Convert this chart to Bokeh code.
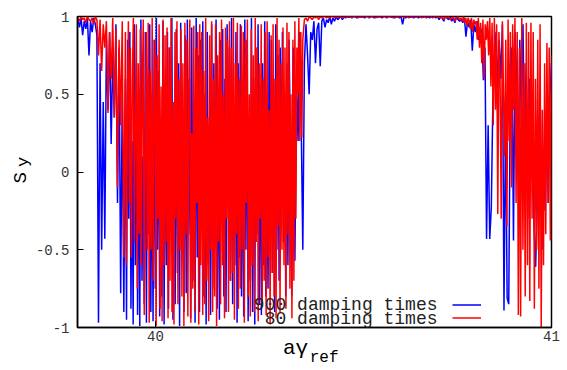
import numpy as np
from bokeh.plotting import figure
from bokeh.models import Range1d, Label, Legend, LegendItem, FixedTicker, LinearAxis
from bokeh.embed import file_html
from bokeh.resources import INLINE

# ---- data ----
x_ticks = [40, 41]
y_ticks = [-1, -0.5, 0, 0.5, 1]
y_tick_labels = {-1: "-1", -0.5: "-0.5", 0: "0", 0.5: "0.5", 1: "1"}

# segment limits along aγ_ref (x)
blue_start_x = (39.800, 39.920)
blue_dense_x = (39.924, 40.340)
blue_tail_x = (40.344, 40.420)
blue_flat_x = (40.424, 40.768)
blue_right_x = (40.772, 41.000)
red_start_x = (39.800, 39.920)
red_dense_x = (39.924, 40.372)
red_flat_x = (40.376, 40.768)
red_right_x = (40.772, 41.000)

blue_start = [1, .98, .93, .99, .88, .97, .92, .99, .75, .97, .9, .99, .95, .88,
              -.97, .7, -.5, .45, -.43, .85, .4, .9, .18, .75, .35, .95, -.2, .8, -.78, .5, -.9]
blue_dense = [.6, -.95, .85, -.3, .9, -.88, .2, -.98, .95, -.6,
              .7, -.92, .4, -.99, .98, -.7, .1, -.85, .9, -.97,
              .5, -.4, .95, -.9, .3, -.96, .85, -.75, .99, -.5,
              .65, -.93, .2, -.8, .97, -.98, .55, -.6, .9, -.88,
              .8, -.3, .99, -.95, .45, -.85, .92, -.65, .7, -.99,
              .96, -.5, .35, -.9, .88, -.78, .98, -.4, .6, -.94,
              .93, -.7, .15, -.97, .99, -.55, .75, -.9, .85, -.35,
              .97, -.8, .5, -.98, .9, -.6, .3, -.92, .95, -.75,
              .7, -.45, .98, -.88, .55, -.95, .85, -.3, .92, -.8,
              .6, -.9, .95, -.2, .8, -.7, .99, -.85, .4, -.6,
              .9, -.97, .7, -.55, .95, -.8, .4, -.93, .98, -.5,
              .85, -.96, .3, -.7, .99, -.9, .6, -.98, .8, -.4,
              .95, -.85, .5, -.92, .7, -.6, .97, -.8, .2, -.75,
              .9, -.3, .85, -.65, .6, -.9, .95, -.5, .75, -.7,
              .8, -.2, .9, -.45, .5, -.8, .7, -.6, .85, .3]
blue_tail = [-.8, .8, -.57, .6, .2, .9, .3, -.5, .7, .95,
             .75, .5, .9, .85, .97, .7, .92, .96, .68, .97]
blue_flat = [.99, .93, .98, .96, 1, .95, .99, .97, 1, .98,
             .99, 1, .98, 1, .99, 1, .995, 1, .99, 1,
             1, .99, 1, 1, .995, 1, .99, 1, 1, .99,
             1, 1, .99, 1, .995, 1, 1, .99, 1, 1,
             .99, 1, 1, .995, 1, .99, 1, 1, .99, 1,
             .95, 1, .99, 1, 1, .995, 1, .99, 1, 1,
             .99, 1, 1, .995, 1, .99, 1, .99, 1, .995,
             1, .99, 1, .98, 1, .99, .97, 1, .99, .98,
             1, .97, .99, .96, 1, .98, .97]
blue_right = [.98, .96, .99, .87, .97, .93, .98, .78, .95, .9,
              .97, .85, .93, .9, .59, .8, -.43, .3, -.43, -.23,
              .47, .7, .9, .54, .85, .6, .95, -.89, .4, -.81,
              -.85, .5, .8, -.44, .9, .6, .03, .85, .3, .95,
              .1, .7, -.3, .6, -.04, .2, -.35, -.61, -.2, -.03,
              .4, -.5, .1, -.25, .3, -.2, .5, .7]

red_start = [1, .99, .97, 1, .98, .99, .96, 1, .98, .97, .99, .95, 1, .98,
             .75, .98, .65, .95, .8, .97, .38, .9, .6, .99, .35, .92, -.1, .85, .3, .97, -.55]
red_dense = [.9, -.6, .4, .97, -.2, .8, -.55, .6, .99, -.45,
             .3, .95, -.75, .7, -.4, .92, -.6, .5, .98, -.92,
             .1, .9, -.5, .96, -.97, .65, -.5, .99, -.7, .4,
             .85, -.99, .75, -.3, .95, -.88, .55, -.96, .98, -.6,
             .88, -.45, .93, -.94, .8, -.7, .99, -.9, .45, -.98,
             .9, -.3, .97, -.85, .6, -.5, .92, -.8, .7, -.99,
             .96, -.4, .85, -.93, .5, .98, -.97, .25, -.75, .94,
             -.9, .8, -.2, .9, -.98, .95, -.6, .9, -.92, .65,
             -.85, .99, -.7, .35, -.96, .88, -.5, .97, -.9, .6,
             -.8, .95, -.99, .75, -.45, .9, -.85, .98, -.6, .5,
             -.94, .93, -.3, .85, -.9, .97, -.7, .8, -.65, .99,
             -.95, .7, -.4, .96, -.88, .6, -.75, .94, -.5, .9,
             -.97, .85, -.2, .98, -.8, .5, -.93, .92, -.6, .75,
             -.9, .99, -.45, .8, -.96, .7, -.3, .95, -.85, .6,
             -.7, .9, -.92, .97, -.55, .4, -.98, .88, -.65, .95,
             -.8, .6, -.94, .99, -.35, .85, -.9, .7, -.5, .93,
             -.6, .8, -.88, .96, -.4, .9, -.75, .5, -.94, .85,
             -.7, .97, -.3, .8, .5, .99, .2, .9, .22, .85]
red_flat = [.98, .99, .97, 1, .99, .98, 1, .99, 1, .98,
            1, .99, 1, 1, .99, 1, .99, 1, 1, .995,
            1, .995, 1, 1, .99, 1, 1, .995, 1, 1,
            .995, 1, 1, 1, .99, 1, 1, .995, 1, 1,
            1, .995, 1, 1, 1, .99, 1, 1, .995, 1,
            1, 1, .995, 1, 1, 1, .99, 1, 1, .995,
            1, 1, 1, .995, 1, 1, .99, 1, 1, 1,
            .995, 1, 1, 1, .99, 1, 1, .995, 1, 1,
            1, .99, 1, 1, .995, 1, .99, 1, .98, 1,
            .99, 1, .98, .99, 1, .97, .99, 1, .98]
red_right = [.99, .97, 1, .96, .99, .94, .99, .97, .92, .99,
             .9, .98, .95, .97, .85, .99, .8, .96, .7, .98,
             .6, .95, .85, .97, .75, .99, .55, .96, .3, .99,
             .4, .95, -.27, .9, .6, -.3, .97, .5, .1, .85,
             -.35, .98, .2, .9, -.1, .95, .4, .99, -.2, .9,
             -.92, .8, -.93, .99, -.5, .7, -.8, .96, -.6, .9,
             -.83, .96, -.3, .9, -.88, .6, -.5, .85, -.75, .95,
             -1.0, .4, -.6, .7, -.4, .83, -.2, .8, -.44, .75]


def build(parts):
    xs, ys = [], []
    for (x0, x1), vals in parts:
        xs.append(np.linspace(x0, x1, len(vals)))
        ys.extend(vals)
    return np.concatenate(xs), ys


xb, yb = build([(blue_start_x, blue_start), (blue_dense_x, blue_dense), (blue_tail_x, blue_tail),
                (blue_flat_x, blue_flat), (blue_right_x, blue_right)])
xr, yr = build([(red_start_x, red_start), (red_dense_x, red_dense),
                (red_flat_x, red_flat), (red_right_x, red_right)])

MONO = "Liberation Mono"
NB = "\u00a0"

p = figure(width=567, height=370, x_range=Range1d(39.803, 41.0), y_range=Range1d(-1, 1),
           output_backend="svg", toolbar_location=None,
           min_border_left=77, min_border_right=16, min_border_top=16, min_border_bottom=43)
p.background_fill_color = "white"
p.border_fill_color = "white"
p.outline_line_color = "black"
p.outline_line_width = 1.5
p.outline_line_alpha = 1

for ax in (p.xaxis[0], p.yaxis[0]):
    ax.axis_line_color = "black"
    ax.axis_line_width = 1.5
    ax.major_tick_in = 6
    ax.major_tick_out = 0
    ax.minor_tick_in = 0
    ax.minor_tick_out = 0
    ax.major_tick_line_color = "black"
    ax.major_label_text_font = MONO
    ax.major_label_text_font_size = "14px"
    ax.major_label_text_color = "#333333"
    ax.axis_label_text_font = MONO
    ax.axis_label_text_font_style = "normal"
    ax.axis_label_text_color = "black"

p.xaxis[0].ticker = FixedTicker(ticks=x_ticks)
p.yaxis[0].ticker = FixedTicker(ticks=y_ticks)
p.yaxis[0].major_label_overrides = y_tick_labels
p.xaxis[0].major_label_standoff = 3
p.yaxis[0].major_label_standoff = 8

# axis titles: main part on the axes, subscripts on label-only axes
p.xaxis[0].axis_label = "aγ" + NB * 3
p.xaxis[0].axis_label_text_font_size = "21px"
p.xaxis[0].axis_label_standoff = -7
p.yaxis[0].axis_label = "S" + NB
p.yaxis[0].axis_label_text_font_size = "19px"
p.yaxis[0].axis_label_standoff = 1


def sub_axis(text, size, standoff):
    return LinearAxis(ticker=FixedTicker(ticks=[]), axis_label=text,
                      axis_label_text_font=MONO, axis_label_text_font_size=size,
                      axis_label_text_font_style="normal", axis_label_text_color="black",
                      axis_label_standoff=standoff, axis_line_color=None,
                      major_tick_line_color=None, minor_tick_line_color=None,
                      major_tick_in=0, major_tick_out=0, minor_tick_in=0, minor_tick_out=0,
                      major_label_standoff=0, major_label_text_font_size="1px")


p.add_layout(sub_axis(NB * 2 + "ref", "16px", -14), "below")
p.add_layout(sub_axis(NB * 2 + "y", "17px", -26), "left")

p.xgrid.ticker = FixedTicker(ticks=[40])
p.xgrid.grid_line_color = "black"
p.xgrid.grid_line_dash = "1 2"
p.xgrid.grid_line_width = 1
p.xgrid.grid_line_alpha = 1
p.ygrid.visible = False

rb = p.line(xb, yb, line_color="#0000ff", line_width=1.5)
rr = p.line(xr, yr, line_color="#ff0000", line_width=1.5)

legend = Legend(items=[LegendItem(label=" ", renderers=[rb]), LegendItem(label=" ", renderers=[rr])],
                location=(375, 3), glyph_width=29, glyph_height=13, label_height=13, label_width=1,
                label_standoff=0, spacing=0, padding=0, margin=0, border_line_color=None,
                background_fill_alpha=0, label_text_font_size="1px")
p.add_layout(legend)


def lab(text, x, y, size):
    p.add_layout(Label(x=x, y=y, x_units="screen", y_units="screen", text=text,
                       text_font=MONO, text_font_size=size, text_align="right",
                       text_baseline="middle", text_color="#222222"))


lab("900 damping times", 360, 23, "18px")
lab("80 damping times", 360, 8.5, "18px")

open("out.html", "w").write(file_html(p, INLINE))
